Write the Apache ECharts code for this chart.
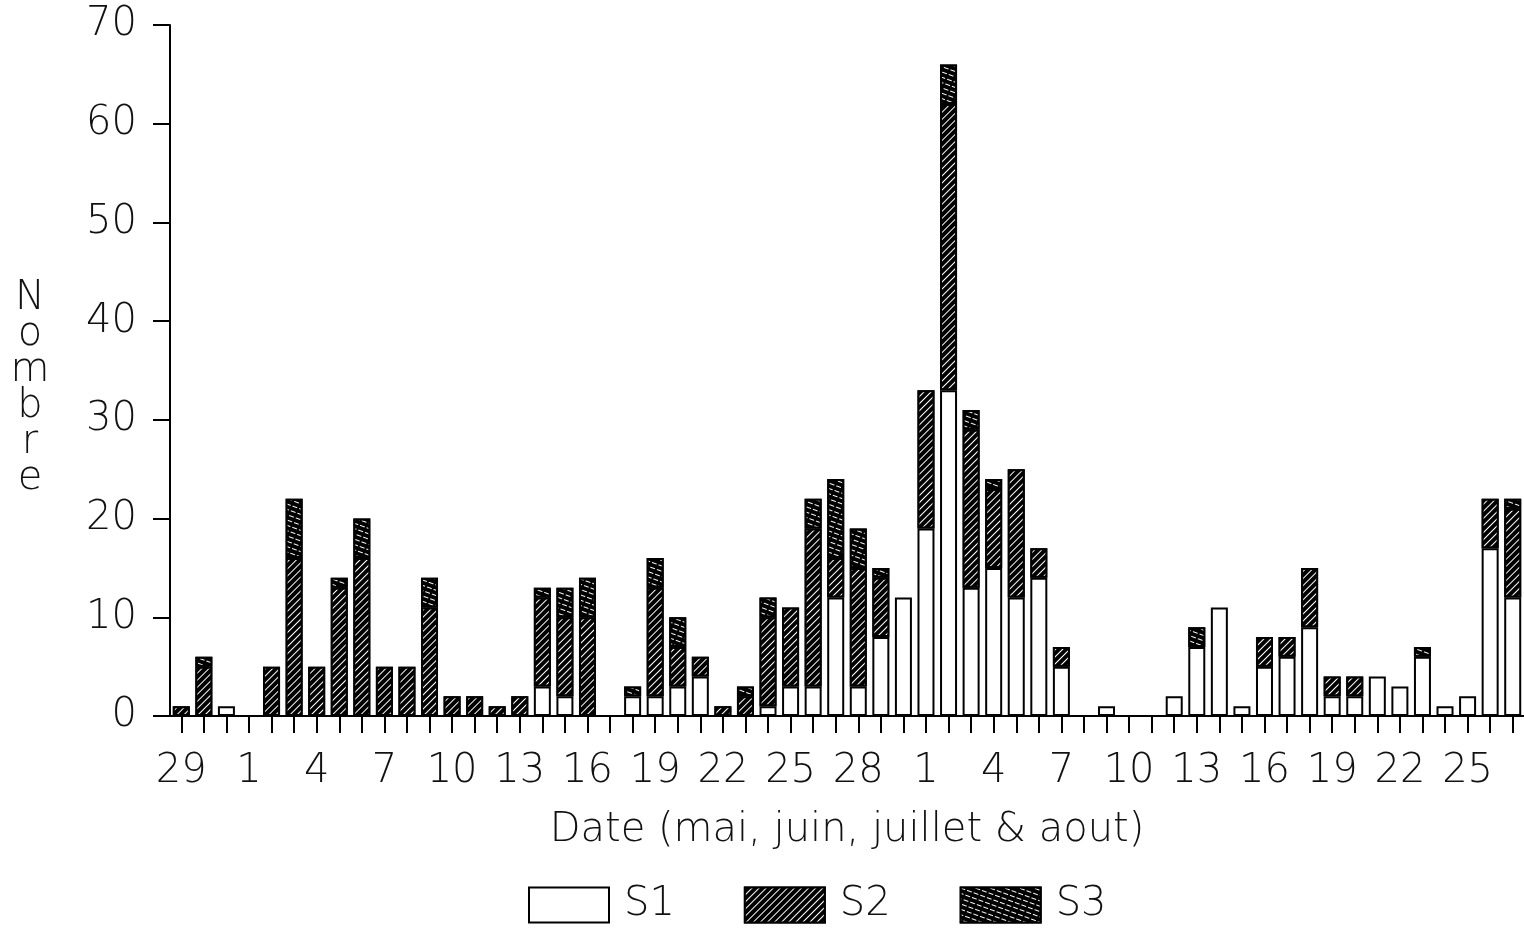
<!DOCTYPE html>
<html>
<head>
<meta charset="utf-8">
<script src="https://cdn.jsdelivr.net/npm/echarts@6/dist/echarts.min.js"></script>
<style>html,body{margin:0;padding:0;background:#fff}#c{width:1524px;height:928px}</style>
</head>
<body>
<div id="c"></div>
<script>
// Dates: 29 mai .. 27 juillet (one per day)
var dates = [
  "29 mai","30 mai","31 mai",
  "1 juin","2 juin","3 juin","4 juin","5 juin","6 juin","7 juin","8 juin","9 juin","10 juin",
  "11 juin","12 juin","13 juin","14 juin","15 juin","16 juin","17 juin","18 juin","19 juin","20 juin",
  "21 juin","22 juin","23 juin","24 juin","25 juin","26 juin","27 juin","28 juin","29 juin","30 juin",
  "1 juil","2 juil","3 juil","4 juil","5 juil","6 juil","7 juil","8 juil","9 juil","10 juil",
  "11 juil","12 juil","13 juil","14 juil","15 juil","16 juil","17 juil","18 juil","19 juil","20 juil",
  "21 juil","22 juil","23 juil","24 juil","25 juil","26 juil","27 juil"
];
var s1 = [0,0,1, 0,0,0,0,0,0,0,0,0,0, 0,0,0,3,2,0,0,2,2,3, 4,0,0,1,3,3,12,3,8,12,
          19,33,13,15,12,14,5,0,1,0, 0,2,7,11,1,5,6,9,2,2, 4,3,6,1,2,17,12];
var s2 = [1,5,0, 0,5,16,5,13,16,5,5,11,2, 2,1,2,9,8,10,0,0,11,4, 2,1,2,9,8,16,4,12,6,0,
          14,29,16,8,13,3,2,0,0,0, 0,0,0,0,0,3,2,6,2,2, 0,0,0,0,0,5,9];
var s3 = [0,1,0, 0,0,6,0,1,4,0,0,3,0, 0,0,0,1,3,4,0,1,3,3, 0,0,1,2,0,3,8,4,1,0,
          0,4,2,1,0,0,0,0,0,0, 0,0,2,0,0,0,0,0,0,0, 0,0,1,0,0,0,1];
var yTicks = {min: 0, max: 70, step: 10};

function nz(a){ return a.map(function(v){ return v === 0 ? null : v; }); }

var FONT = "DejaVu Sans";
var chart = echarts.init(document.getElementById('c'));
chart.setOption({
  animation: false,
  backgroundColor: '#fff',
  grid: {left: 170, right: 0, top: 25, bottom: 212, containLabel: false},
  legend: {
    top: 880, left: 523,
    icon: 'rect',
    itemWidth: 80, itemHeight: 35, itemGap: 69,
    textStyle: {fontFamily: FONT, fontSize: 40, color: '#111', fontWeight: 200, padding: [0, 0, 0, 10]},
    data: ['S1','S2','S3']
  },
  xAxis: {
    type: 'category',
    data: dates,
    boundaryGap: true,
    name: 'Date (mai, juin, juillet & aout)',
    nameLocation: 'middle',
    nameGap: 95,
    nameTextStyle: {fontFamily: FONT, fontSize: 40, color: '#111', fontWeight: 200},
    axisLine: {lineStyle: {color: '#000', width: 2}},
    axisTick: {show: true, alignWithLabel: true, interval: 0, length: 17, lineStyle: {color: '#000', width: 2}},
    axisLabel: {
      interval: 2, margin: 36,
      fontFamily: FONT, fontSize: 40, color: '#111', fontWeight: 200,
      formatter: function(v){ return v.split(' ')[0]; }
    },
    splitLine: {show: false}
  },
  yAxis: {
    type: 'value',
    min: yTicks.min, max: yTicks.max, interval: yTicks.step,
    name: '\nN\no\nm\nb\nr\ne',
    nameLocation: 'middle',
    nameRotate: 0,
    nameGap: 140,
    nameTextStyle: {fontFamily: FONT, fontSize: 40, color: '#111', lineHeight: 36, align: 'center', fontWeight: 200},
    axisLine: {show: true, lineStyle: {color: '#000', width: 2}},
    axisTick: {show: true, length: 17, lineStyle: {color: '#000', width: 2}},
    axisLabel: {margin: 33, fontFamily: FONT, fontSize: 40, color: '#111', fontWeight: 200},
    splitLine: {show: false}
  },
  series: [
    {
      name: 'S1', type: 'bar', stack: 'tot', barWidth: 17,
      data: nz(s1),
      itemStyle: {color: '#fff', borderColor: '#000', borderWidth: 2}
    },
    {
      name: 'S2', type: 'bar', stack: 'tot', barWidth: 17,
      data: nz(s2),
      itemStyle: {
        color: '#000', borderColor: '#000', borderWidth: 2,
        decal: {symbol: 'rect', color: '#fff', backgroundColor: '#000', dashArrayX: [1, 0], dashArrayY: [0.7, 3.6], rotation: -Math.PI / 4, symbolSize: 1}
      }
    },
    {
      name: 'S3', type: 'bar', stack: 'tot', barWidth: 17,
      data: nz(s3),
      itemStyle: {
        color: '#000', borderColor: '#000', borderWidth: 2,
        decal: {symbol: 'rect', color: '#fff', backgroundColor: '#000', dashArrayX: [[5, 2]], dashArrayY: [0.8, 3.2], rotation: Math.PI / 9, symbolSize: 1}
      }
    }
  ]
});
</script>
</body>
</html>
